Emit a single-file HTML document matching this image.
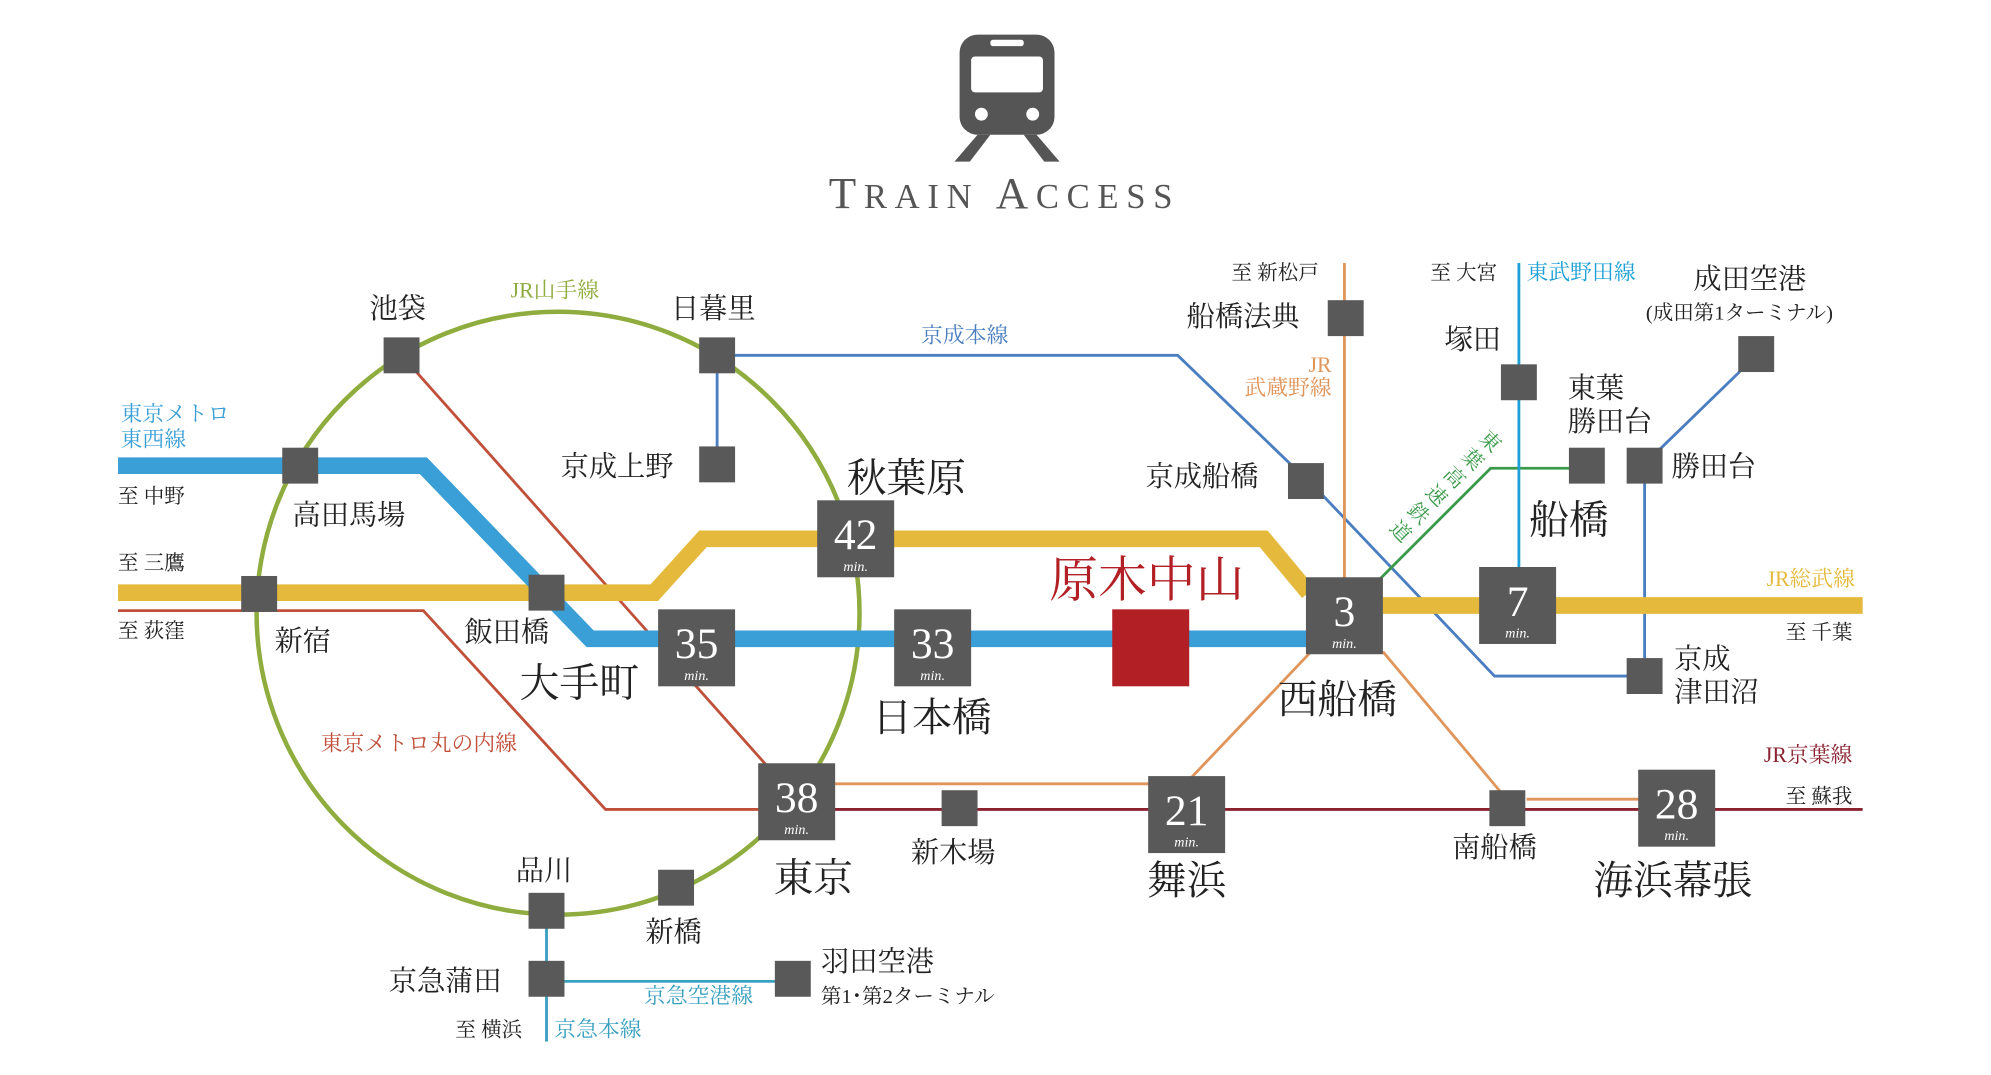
<!DOCTYPE html>
<html><head><meta charset="utf-8"><style>
html,body{margin:0;padding:0;background:#fff;}
svg{display:block;}
text{font-family:"Liberation Serif","Noto Serif CJK JP","Noto Serif CJK SC",serif;fill:#222;}
.m{font-size:22px;}
.b{font-size:31px;}
.s{font-size:16px;}
.n{font-size:34px;fill:#fff;text-anchor:middle;}
.u{font-size:11px;fill:#fff;font-style:italic;text-anchor:middle;}
</style></head><body>
<svg width="1991" height="1075" viewBox="0 0 1552 838" xmlns="http://www.w3.org/2000/svg">
<g fill="#555">
<rect x="748" y="27" width="74" height="78" rx="14"/>
<rect x="772" y="31" width="26" height="5" rx="2" fill="#fff"/>
<rect x="757" y="44" width="56" height="28" rx="3" fill="#fff"/>
<circle cx="765" cy="89" r="5" fill="#fff"/><circle cx="805" cy="89" r="5" fill="#fff"/>
<polygon points="762,105 772,105 756,126 744,126"/><polygon points="798,105 808,105 826,126 814,126"/>
</g>
<text x="783" y="162" text-anchor="middle" style="font-size:35px;letter-spacing:6px;fill:#555">T<tspan style="font-size:27px">RAIN</tspan> A<tspan style="font-size:27px">CCESS</tspan></text>

<circle cx="435" cy="478" r="235" fill="none" stroke="#8fac3e" stroke-width="3.5"/>
<g fill="none" stroke-width="2.2">
<polyline points="559,277 918,277 1030,385 1165,527 1282,527" stroke="#4a7ec0"/>
<line x1="559" y1="277" x2="559" y2="362" stroke="#4a7ec0"/>
<line x1="1282" y1="363" x2="1282" y2="527" stroke="#4a7ec0"/>
<line x1="1292" y1="352" x2="1360" y2="286" stroke="#4a7ec0"/>
<line x1="313" y1="277" x2="605" y2="605" stroke="#c0503a"/>
<polyline points="92,476 330,476 472,631 600,631" stroke="#c0503a"/>
<line x1="621" y1="631" x2="1452" y2="631" stroke="#8b2230"/>
<line x1="1048" y1="205" x2="1048" y2="470" stroke="#e0955a"/>
<line x1="1022" y1="508" x2="925" y2="610" stroke="#e0955a"/>
<line x1="1078" y1="508" x2="1172" y2="620" stroke="#e0955a"/>
<line x1="640" y1="611" x2="900" y2="611" stroke="#e0955a"/>
<line x1="1190" y1="623" x2="1290" y2="623" stroke="#e0955a"/>
<polyline points="1075,452 1162,365 1225,365" stroke="#3a9a4a"/>
<line x1="1184" y1="205" x2="1184" y2="450" stroke="#1ea0d6"/>
<line x1="426" y1="712" x2="426" y2="812" stroke="#3aa0c0"/>
<line x1="426" y1="765" x2="618" y2="765" stroke="#3aa0c0"/>
</g>
<polyline points="92,462 510,462 548,420 985,420 1020,462" fill="none" stroke="#e4b93c" stroke-width="13"/>
<line x1="1040" y1="472" x2="1452" y2="472" stroke="#e4b93c" stroke-width="13"/>
<polyline points="92,363 330,363 460,498 1030,498" fill="none" stroke="#3a9fd6" stroke-width="13"/>

<g fill="#595959">
<rect x="299" y="263" width="28" height="28"/>
<rect x="545" y="263" width="28" height="28"/>
<rect x="545" y="348" width="28" height="28"/>
<rect x="220" y="349" width="28" height="28"/>
<rect x="188" y="449" width="28" height="28"/>
<rect x="412" y="448" width="28" height="28"/>
<rect x="1035" y="234" width="28" height="28"/>
<rect x="1004" y="361" width="28" height="28"/>
<rect x="1170" y="284" width="28" height="28"/>
<rect x="1223" y="349" width="28" height="28"/>
<rect x="1268" y="349" width="28" height="28"/>
<rect x="1355" y="262" width="28" height="28"/>
<rect x="1268" y="513" width="28" height="28"/>
<rect x="734" y="616" width="28" height="28"/>
<rect x="1161" y="616" width="28" height="28"/>
<rect x="412" y="696" width="28" height="28"/>
<rect x="513" y="678" width="28" height="28"/>
<rect x="412" y="749" width="28" height="28"/>
<rect x="604" y="749" width="28" height="28"/>
<rect x="637" y="390" width="60" height="60"/>
<rect x="513" y="475" width="60" height="60"/>
<rect x="697" y="475" width="60" height="60"/>
<rect x="1018" y="450" width="60" height="60"/>
<rect x="1153" y="442" width="60" height="60"/>
<rect x="591" y="595" width="60" height="60"/>
<rect x="895" y="605" width="60" height="60"/>
<rect x="1277" y="600" width="60" height="60"/>
</g>
<rect x="867" y="475" width="60" height="60" fill="#b21f24"/>
<g>
<text class="n" x="667" y="428">42</text><text class="u" x="667" y="445">min.</text>
<text class="n" x="543" y="513">35</text><text class="u" x="543" y="530">min.</text>
<text class="n" x="727" y="513">33</text><text class="u" x="727" y="530">min.</text>
<text class="n" x="1048" y="488">3</text><text class="u" x="1048" y="505">min.</text>
<text class="n" x="1183" y="480">7</text><text class="u" x="1183" y="497">min.</text>
<text class="n" x="621" y="633">38</text><text class="u" x="621" y="650">min.</text>
<text class="n" x="925" y="643">21</text><text class="u" x="925" y="660">min.</text>
<text class="n" x="1307" y="638">28</text><text class="u" x="1307" y="655">min.</text>
</g>

<text class="m" x="288" y="248">池袋</text>
<text class="m" x="523" y="248">日暮里</text>
<text class="m" x="437" y="371">京成上野</text>
<text class="m" x="228" y="409">高田馬場</text>
<text class="m" x="214" y="507">新宿</text>
<text class="m" x="362" y="500">飯田橋</text>
<text class="b" x="660" y="383">秋葉原</text>
<text class="b" x="405" y="543">大手町</text>
<text class="b" x="680" y="570">日本橋</text>
<text x="818" y="465" style="font-size:38px;fill:#b21f24">原木中山</text>
<text class="b" x="996" y="556">西船橋</text>
<text class="b" x="1192" y="416">船橋</text>
<text class="b" x="603" y="695">東京</text>
<text class="b" x="894" y="697">舞浜</text>
<text class="b" x="1242" y="697">海浜幕張</text>
<text class="m" x="710" y="672">新木場</text>
<text class="m" x="1132" y="668">南船橋</text>
<text class="m" x="402" y="686">品川</text>
<text class="m" x="503" y="734">新橋</text>
<text class="m" x="303" y="772">京急蒲田</text>
<text class="m" x="640" y="757">羽田空港</text>
<text class="s" x="640" y="782">第1･第2ターミナル</text>
<text class="m" x="925" y="254">船橋法典</text>
<text class="m" x="893" y="379">京成船橋</text>
<text class="m" x="1126" y="272">塚田</text>
<text class="m" x="1222" y="310">東葉</text>
<text class="m" x="1222" y="336">勝田台</text>
<text class="m" x="1303" y="371">勝田台</text>
<text class="m" x="1320" y="225">成田空港</text>
<text class="s" x="1283" y="249">(成田第1ターミナル)</text>
<text class="m" x="1305" y="521">京成</text>
<text class="m" x="1305" y="547">津田沼</text>

<g class="s">
<text x="398" y="232" style="fill:#8fac3e;font-size:17px">JR山手線</text>
<text x="718" y="267" style="fill:#4a7ec0;font-size:17px">京成本線</text>
<text x="94" y="328" style="fill:#3a9fd6;font-size:17px">東京メトロ</text>
<text x="94" y="348" style="fill:#3a9fd6;font-size:17px">東西線</text>
<text x="92" y="392" style="font-size:16px">至 中野</text>
<text x="92" y="444" style="font-size:16px">至 三鷹</text>
<text x="92" y="497" style="font-size:16px">至 荻窪</text>
<text x="250" y="585" style="fill:#c0503a;font-size:17px">東京メトロ丸の内線</text>
<text x="960" y="218" style="font-size:16px">至 新松戸</text>
<text x="1038" y="290" text-anchor="end" style="fill:#e0955a;font-size:17px">JR</text>
<text x="1038" y="308" text-anchor="end" style="fill:#e0955a;font-size:17px">武蔵野線</text>
<text x="1115" y="218" style="font-size:16px">至 大宮</text>
<text x="1190" y="218" style="fill:#1ea0d6;font-size:17px">東武野田線</text>
<text x="1377" y="457" style="fill:#e4b93c;font-size:17px">JR総武線</text>
<text x="1392" y="498" style="font-size:16px">至 千葉</text>
<text x="1375" y="594" style="fill:#8b2230;font-size:17px">JR京葉線</text>
<text x="1392" y="626" style="font-size:16px">至 蘇我</text>
<text x="502" y="782" style="fill:#3aa0c0;font-size:17px">京急空港線</text>
<text x="355" y="808" style="font-size:16px">至 横浜</text>
<text x="432" y="808" style="fill:#3aa0c0;font-size:17px">京急本線</text>
</g>
<g style="font-size:16px;fill:#3a9a4a" text-anchor="middle">
<text transform="translate(1158,348) rotate(45)" style="fill:#3a9a4a">東</text>
<text transform="translate(1144,362) rotate(45)" style="fill:#3a9a4a">葉</text>
<text transform="translate(1130,376) rotate(45)" style="fill:#3a9a4a">高</text>
<text transform="translate(1116,390) rotate(45)" style="fill:#3a9a4a">速</text>
<text transform="translate(1102,404) rotate(45)" style="fill:#3a9a4a">鉄</text>
<text transform="translate(1088,418) rotate(45)" style="fill:#3a9a4a">道</text>
</g>
</svg>
</body></html>
